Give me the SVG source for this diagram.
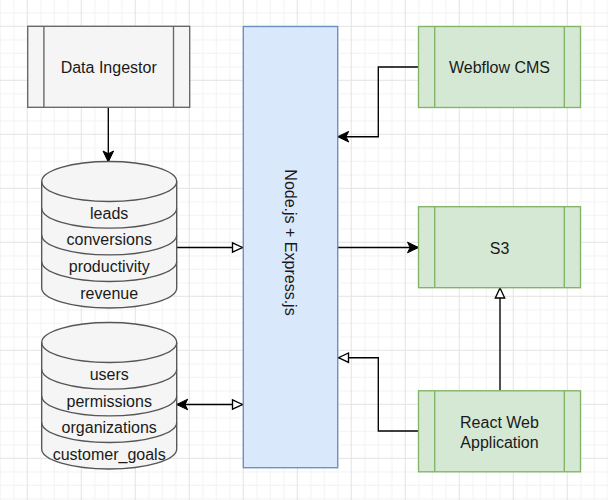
<svg xmlns="http://www.w3.org/2000/svg" width="608" height="500" viewBox="0 0 608 500">
<style>
text{font-family:"Liberation Sans",Arial,Helvetica,sans-serif;font-size:16px;fill:#1a1a1a;text-anchor:middle}
.gray{fill:#f5f5f5;stroke:#666666;stroke-width:1.35}
.green{fill:#d5e8d4;stroke:#82b366;stroke-width:1.35}
.blue{fill:#dae8fc;stroke:#6c8ebf;stroke-width:1.35}
.cyl{fill:#f5f5f5;stroke:#555555;stroke-width:1.35}
.cl{fill:none;stroke:#555555;stroke-width:1.35}
.edge{fill:none;stroke:#000000;stroke-width:1.35}
</style>
<defs>
<pattern id="grid" patternUnits="userSpaceOnUse" x="26.8" y="25.8" width="54" height="54">
<path d="M14,0V54M27.5,0V54M41,0V54M0,14H54M0,27.5H54M0,41H54" stroke="#f2f2f2" stroke-width="1" fill="none"/>
<path d="M0.5,0V54M0,0.5H54" stroke="#e3e3e3" stroke-width="1" fill="none"/>
</pattern>
<marker id="filled" markerUnits="userSpaceOnUse" viewBox="-12 -7 14 14" refX="0" refY="0" markerWidth="14" markerHeight="14" orient="auto-start-reverse">
<path d="M0,0 L-11,-5.3 L-8.3,0 L-11,5.3 Z" fill="#000" stroke="#000" stroke-width="1"/>
</marker>
<marker id="open" markerUnits="userSpaceOnUse" viewBox="-12 -7 14 14" refX="0" refY="0" markerWidth="14" markerHeight="14" orient="auto">
<path d="M-0.5,0 L-10.5,-4.7 L-10.5,4.7 Z" fill="#fff" stroke="#000" stroke-width="1.35" stroke-linejoin="miter"/>
</marker>
</defs>
<rect x="0" y="0" width="608" height="500" fill="#ffffff"/>
<rect x="0" y="0" width="608" height="500" fill="url(#grid)"/>

<g id="connectors">
<path class="edge" d="M108.3,107.5 V162" marker-end="url(#filled)"/>
<path class="edge" d="M176.7,247.5 H243" marker-end="url(#open)"/>
<path class="edge" d="M176.7,404.5 H243" marker-start="url(#filled)" marker-end="url(#open)"/>
<path class="edge" d="M418.5,67 H378.3 V136.7 H337.7" marker-end="url(#filled)"/>
<path class="edge" d="M337.7,247.5 H418.5" marker-end="url(#filled)"/>
<path class="edge" d="M500,390.8 V287.5" marker-end="url(#open)"/>
<path class="edge" d="M418.5,431 H378.3 V357.7 H338" marker-end="url(#open)"/>
</g>

<g id="data-ingestor">
<rect class="gray" x="27.7" y="26.3" width="162" height="81"/>
<path class="gray" d="M43.9,26.3V107.3M173.5,26.3V107.3" fill="none"/>
<text x="108.7" y="72.7">Data Ingestor</text>
</g>

<g id="db-metrics">
<path class="cyl" d="M41.7,181.5 A67.5,20 0 0 1 176.7,181.5 V288 A67.5,20 0 0 1 41.7,288 Z"/>
<path class="cl" d="M41.7,181.5 A67.5,20 0 0 0 176.7,181.5 M41.7,208.2 A67.5,20 0 0 0 176.7,208.2 M41.7,234.9 A67.5,20 0 0 0 176.7,234.9 M41.7,261.5 A67.5,20 0 0 0 176.7,261.5"/>
<text x="109.2" y="218.5">leads</text>
<text x="109.2" y="245.2">conversions</text>
<text x="109.2" y="271.9">productivity</text>
<text x="109.2" y="298.5">revenue</text>
</g>

<g id="db-accounts">
<path class="cyl" d="M41.7,342.5 A67.5,20 0 0 1 176.7,342.5 V449 A67.5,20 0 0 1 41.7,449 Z"/>
<path class="cl" d="M41.7,342.5 A67.5,20 0 0 0 176.7,342.5 M41.7,369.2 A67.5,20 0 0 0 176.7,369.2 M41.7,395.9 A67.5,20 0 0 0 176.7,395.9 M41.7,422.5 A67.5,20 0 0 0 176.7,422.5"/>
<text x="109.2" y="380">users</text>
<text x="109.2" y="406.7">permissions</text>
<text x="109.2" y="433.3">organizations</text>
<text x="109.2" y="460">customer_goals</text>
</g>

<g id="node-express">
<rect class="blue" x="243.3" y="26.5" width="94.4" height="441.2"/>
<text transform="translate(290.5,242.5) rotate(90)" x="0" y="5.8">Node.js + Express.js</text>
</g>

<g id="webflow-cms">
<rect class="green" x="418.5" y="26.5" width="162" height="81"/>
<path class="green" d="M434.7,26.5V107.5M564.3,26.5V107.5" fill="none"/>
<text x="499.5" y="73">Webflow CMS</text>
</g>

<g id="s3">
<rect class="green" x="418.5" y="206.7" width="162" height="81"/>
<path class="green" d="M434.7,206.7V287.7M564.3,206.7V287.7" fill="none"/>
<text x="499.5" y="253.8">S3</text>
</g>

<g id="react-app">
<rect class="green" x="418.5" y="390.8" width="162" height="81"/>
<path class="green" d="M434.7,390.8V471.8M564.3,390.8V471.8" fill="none"/>
<text x="499.5" y="428">React Web</text>
<text x="499.5" y="448">Application</text>
</g>
</svg>
